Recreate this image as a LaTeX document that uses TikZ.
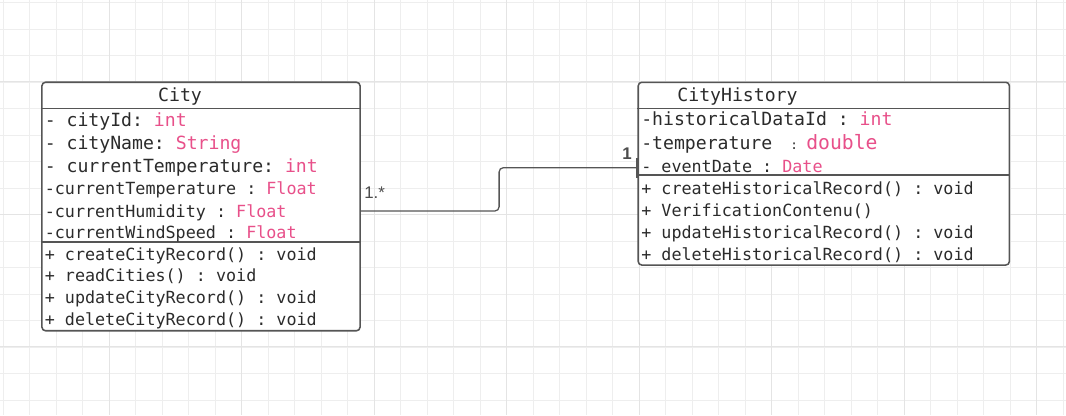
\documentclass[tikz,border=0pt]{standalone}
\usepackage{fontspec}
\setmainfont{Liberation Sans}
\newfontfamily\umlfont{DejaVu Sans Mono}
\usetikzlibrary{calc}
\definecolor{typepink}{HTML}{E8508A}
\definecolor{inkgray}{HTML}{2B2B2B}
\definecolor{boxgray}{HTML}{555555}
\definecolor{gridminor}{HTML}{EEEEEE}
\definecolor{gridmajor}{HTML}{E4E4E4}
\newcommand{\ty}[1]{\textcolor{typepink}{#1}}
\newcommand{\rowsmall}{\fontsize{11.9}{14}\selectfont\frenchspacing}
\newcommand{\rowbig}{\fontsize{12.9}{15}\selectfont\frenchspacing}

\begin{document}
\begin{tikzpicture}[x=0.025cm,y=-0.025cm,
    classbox/.style={rectangle, draw=boxgray, fill=white, line width=1.1pt, rounded corners=2.5pt, inner sep=0pt},
    sepline/.style={draw=boxgray, line width=1.1pt},
    row/.style={anchor=west, inner sep=0pt, text height=10.5pt, text depth=1.1pt, text=inkgray, font=\umlfont\rowsmall},
    bigrow/.style={row, font=\umlfont\rowbig},
    assoc/.style={draw=boxgray, line width=0.9pt, rounded corners=3pt},
    multlabel/.style={inner sep=0pt, text=boxgray!90!black, font=\fontsize{12}{14}\selectfont}]
        \useasboundingbox (0,0) rectangle (1066,415);
        \fill[white] (0,0) rectangle (1066,415);

        % grid
        \foreach \i in {0,...,40} {
            \pgfmathsetmacro{\gx}{3.3+26.5*\i}
            \draw[gridminor, line width=0.6pt] (\gx,0) -- (\gx,415);
        }
        \foreach \j in {0,...,15} {
            \pgfmathsetmacro{\gy}{2.7+26.5*\j}
            \draw[gridminor, line width=0.6pt] (0,\gy) -- (1066,\gy);
        }
        \foreach \i in {0,...,7} {
            \pgfmathsetmacro{\gx}{109.3+132.5*\i}
            \draw[gridmajor, line width=0.6pt] (\gx,0) -- (\gx,415);
        }
        \foreach \j in {0,...,2} {
            \pgfmathsetmacro{\gy}{81.9+132.5*\j}
            \draw[gridmajor, line width=0.6pt] (0,\gy) -- (1066,\gy);
        }

        % classes
        \node[classbox, minimum width=7.95cm, minimum height=6.21cm] (city) at (201,206.5) {};
        \node[classbox, minimum width=9.275cm, minimum height=4.5675cm] (hist) at (823.8,173.65) {};

        \draw[sepline] (city.west |- 0,108.3) -- (city.east |- 0,108.3);
        \draw[sepline] (city.west |- 0,242) -- (city.east |- 0,242);
        \draw[sepline] (hist.west |- 0,108.3) -- (hist.east |- 0,108.3);
        \draw[sepline] (hist.west |- 0,175) -- (hist.east |- 0,175);

        \node[bigrow, anchor=center] (citytitle) at (180,95) {City};
        \node[bigrow] (cityattr1) at (44.5,120) {- cityId: \ty{int}};
        \node[bigrow] (cityattr2) at (44.5,143.3) {- cityName: \ty{String}};
        \node[bigrow] (cityattr3) at (44.5,165.7) {- currentTemperature: \ty{int}};
        \node[row] (cityattr4) at (44.5,188.3) {-currentTemperature : \ty{Float}};
        \node[row] (cityattr5) at (44.5,210.7) {-currentHumidity : \ty{Float}};
        \node[row] (cityattr6) at (44.5,232.3) {-currentWindSpeed : \ty{Float}};

        \foreach \m [count=\i] in {createCityRecord() : void, readCities() : void,
                updateCityRecord() : void, deleteCityRecord() : void} {
            \node[row] (citymeth\i) at (44.5,231.5+\i*21.9) {+ \m};
        }

        \node[bigrow, anchor=center] (histtitle) at (737.5,95) {CityHistory};
        \node[bigrow] (histattr1) at (641,119.3) {-historicalDataId : \ty{int}};
        \node[bigrow] (histattr2) at (641,143.3) {-temperature\hspace{12.8pt}{\fontsize{9}{10}\selectfont :}\hspace{6pt}{\fontsize{14}{15}\selectfont\ty{double}}};
        \node[row] (histattr3) at (641,165.7) {- eventDate : \ty{Date}};

        \foreach \m [count=\i] in {createHistoricalRecord() : void, VerificationContenu(),
                updateHistoricalRecord() : void, deleteHistoricalRecord() : void} {
            \node[row] (histmeth\i) at (641,166.4+\i*21.9) {+ \m};
        }

        % association
        \draw[assoc] (city.east |- 0,211) -- ++(138.3,0) |- (hist.west |- 0,167.7);
        \draw[boxgray, line width=2.2pt] (hist.west |- 0,158.3) -- (hist.west |- 0,177.7);
        \node[multlabel, anchor=west] (citymult) at (364,192.7) {1.*};
        \node[multlabel, font=\fontsize{12}{14}\selectfont\bfseries] (histmult) at (627,153.3) {1};
\end{tikzpicture}
\end{document}
